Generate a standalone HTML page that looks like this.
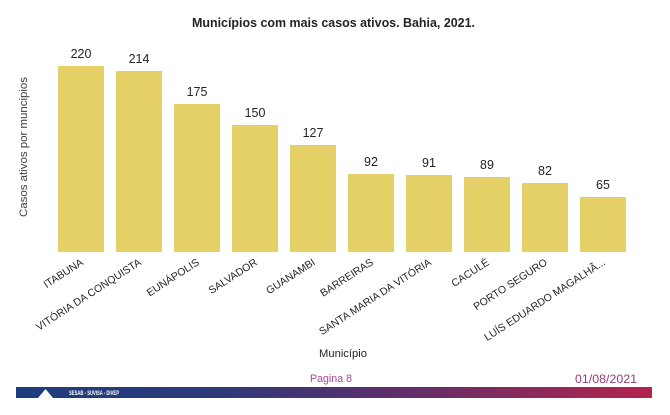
<!DOCTYPE html>
<html>
<head>
<meta charset="utf-8">
<style>
  html, body { margin: 0; padding: 0; background: #ffffff; }
  body { width: 670px; height: 415px; overflow: hidden; }
  svg { display: block; }
  text { font-family: "Liberation Sans", "DejaVu Sans", sans-serif; }
</style>
</head>
<body>
<svg width="670" height="415" viewBox="0 0 670 415" xmlns="http://www.w3.org/2000/svg">
  <defs>
    <linearGradient id="foot" x1="0" y1="0" x2="1" y2="0">
      <stop offset="0" stop-color="#1d3d7c"/>
      <stop offset="0.3" stop-color="#2c3a7a"/>
      <stop offset="0.55" stop-color="#55306e"/>
      <stop offset="0.8" stop-color="#8a2a5c"/>
      <stop offset="1" stop-color="#b2244c"/>
    </linearGradient>
  </defs>

  <!-- Title -->
  <text x="333.5" y="27" text-anchor="middle" font-size="12.5" font-weight="bold" fill="#252423" textLength="283" lengthAdjust="spacingAndGlyphs">Municípios com mais casos ativos. Bahia, 2021.</text>

  <!-- Y axis title -->
  <text transform="translate(27,147) rotate(-90)" text-anchor="middle" font-size="11" fill="#3a3a3a" textLength="140" lengthAdjust="spacingAndGlyphs">Casos ativos por muncipios</text>

  <!-- Bars -->
  <g fill="#e5d068">
    <rect x="58" y="66" width="46" height="186"/>
    <rect x="116" y="71" width="46" height="181"/>
    <rect x="174" y="104" width="46" height="148"/>
    <rect x="232" y="125" width="46" height="127"/>
    <rect x="290" y="145" width="46" height="107"/>
    <rect x="348" y="174" width="46" height="78"/>
    <rect x="406" y="175" width="46" height="77"/>
    <rect x="464" y="177" width="46" height="75"/>
    <rect x="522" y="183" width="46" height="69"/>
    <rect x="580" y="197" width="46" height="55"/>
  </g>

  <!-- Value labels -->
  <g font-size="12.5" fill="#252423" text-anchor="middle">
    <text x="81" y="58">220</text>
    <text x="139" y="63">214</text>
    <text x="197" y="96">175</text>
    <text x="255" y="117">150</text>
    <text x="313" y="137">127</text>
    <text x="371" y="166">92</text>
    <text x="429" y="167">91</text>
    <text x="487" y="169">89</text>
    <text x="545" y="175">82</text>
    <text x="603" y="189">65</text>
  </g>

  <!-- X category labels -->
  <g font-size="10.5" fill="#252423" text-anchor="end">
    <text transform="translate(84,264) rotate(-33)">ITABUNA</text>
    <text transform="translate(142,264) rotate(-33)">VITÓRIA DA CONQUISTA</text>
    <text transform="translate(200,264) rotate(-33)">EUNÁPOLIS</text>
    <text transform="translate(258,264) rotate(-33)">SALVADOR</text>
    <text transform="translate(316,264) rotate(-33)">GUANAMBI</text>
    <text transform="translate(374,264) rotate(-33)">BARREIRAS</text>
    <text transform="translate(432,264) rotate(-33)">SANTA MARIA DA VITÓRIA</text>
    <text transform="translate(490,264) rotate(-33)">CACULÉ</text>
    <text transform="translate(548,264) rotate(-33)">PORTO SEGURO</text>
    <text transform="translate(606,264) rotate(-33)">LUÍS EDUARDO MAGALHÃ...</text>
  </g>

  <!-- X axis title -->
  <text x="343" y="357" text-anchor="middle" font-size="11" fill="#252423" textLength="48" lengthAdjust="spacingAndGlyphs">Município</text>

  <!-- Footer texts -->
  <text x="331" y="382" text-anchor="middle" font-size="11" fill="#a9479e" textLength="42" lengthAdjust="spacingAndGlyphs">Pagina 8</text>
  <text x="637" y="383" text-anchor="end" font-size="12" fill="#9a3d72" textLength="62" lengthAdjust="spacingAndGlyphs">01/08/2021</text>

  <!-- Footer band -->
  <rect x="16" y="387" width="636" height="11" fill="url(#foot)"/>
  <polygon points="38,398 45.5,389 53,398" fill="#ffffff"/>
  <text x="69" y="395" font-size="6" font-weight="bold" fill="#ffffff" textLength="50" lengthAdjust="spacingAndGlyphs">SESAB - SUVISA - DIVEP</text>
</svg>
</body>
</html>
